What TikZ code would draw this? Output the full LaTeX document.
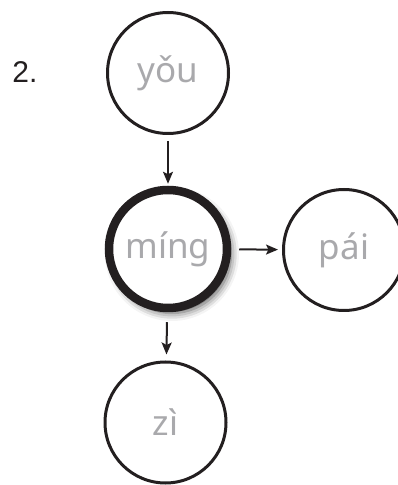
\documentclass[tikz,border=0pt]{standalone}
\usepackage{fontspec}
\setmainfont{Liberation Sans}
\newfontfamily\pinyin{Noto Sans}
\usepackage{tikz}
\usetikzlibrary{arrows.meta, shadows.blur}
\usepackage{xcolor}
\definecolor{syl}{HTML}{A9A9AC}
\definecolor{ink}{HTML}{231F20}
\tikzset{
  syll/.style    ={draw=ink, circle, minimum size=121pt, inner sep=0pt, line width=3pt, text=syl, font=\pinyin\fontsize{35}{36}\selectfont},
  headsyll/.style={syll, minimum size=118pt, line width=8.5pt, fill=white,
                   blur shadow={shadow xshift=4pt, shadow yshift=-5pt, shadow blur radius=8pt, shadow opacity=70}},
  link/.style    ={-{Stealth[length=12pt, width=10pt, inset=2.5pt]}, line width=2pt, draw=ink},
  numlbl/.style  ={font=\fontsize{30}{32}\selectfont, text=ink},
}
\begin{document}
\begin{tikzpicture}[x=1pt, y=1pt]
  \useasboundingbox (0,0) rectangle (397,485);
  % number of the example
  \node[numlbl] (num) at (25,413) {2.};
  % syllables: head in the middle, neighbours round it
  \node[syll]     (you)  at (168,412)  {yǒu};
  \node[headsyll] (ming) at (168,236)  {míng};
  \node[syll]     (pai)  at (344,235)  {pái};
  \node[syll]     (zi)   at (165.5,62.5) {zì};
  % links
  \draw[link, shorten <=6pt, shorten >=2pt] (you) -- (ming);
  \draw[link, shorten <=8pt, shorten >=4pt] (ming) -- (pai);
  \draw[link, shorten <=10pt, shorten >=6pt] (ming) -- (zi);
\end{tikzpicture}
\end{document}
